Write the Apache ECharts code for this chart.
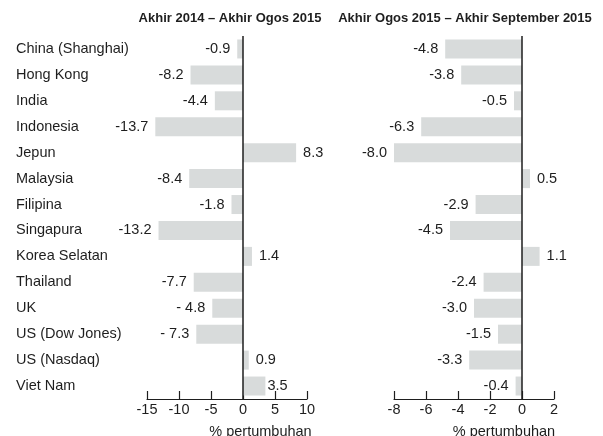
<!DOCTYPE html>
<html>
<head>
<meta charset="utf-8">
<script src="https://cdn.jsdelivr.net/npm/echarts@6/dist/echarts.min.js"></script>
<style>
  html, body { margin: 0; padding: 0; background: #ffffff; }
  #chart { width: 603px; height: 436px; }
</style>
</head>
<body>
<div id="chart"></div>
<script>
// Stock market indices, percentage change over two periods
const markets = [
  'China (Shanghai)', 'Hong Kong', 'India', 'Indonesia', 'Jepun', 'Malaysia',
  'Filipina', 'Singapura', 'Korea Selatan', 'Thailand', 'UK', 'US (Dow Jones)',
  'US (Nasdaq)', 'Viet Nam'
];
const changeToAug2015 = [-0.9, -8.2, -4.4, -13.7, 8.3, -8.4, -1.8, -13.2, 1.4, -7.7, -4.8, -7.3, 0.9, 3.5];
const changeToSep2015 = [-4.8, -3.8, -0.5, -6.3, -8.0, 0.5, -2.9, -4.5, 1.1, -2.4, -3.0, -1.5, -3.3, -0.4];

const leftTicks = { min: -15, max: 10, interval: 5 };
const rightTicks = { min: -8, max: 2, interval: 2 };

const panelTitles = ['Akhir 2014 \u2013 Akhir Ogos 2015', 'Akhir Ogos 2015 \u2013 Akhir September 2015'];
const axisTitle = '% pertumbuhan';
// these two labels are printed with a space after the minus sign
const spacedMinus = ['UK', 'US (Dow Jones)'];

const FONT = '"Liberation Sans", Arial, Helvetica, sans-serif';
const INK = '#1e1e1e';
const BAR = '#d8dbdb';

function fmt(v, name) {
  const s = v.toFixed(1);
  return (v < 0 && spacedMinus.includes(name)) ? '- ' + s.slice(1) : s;
}

function barData(values, spaced, tightLast) {
  return values.map((v, i) => ({
    value: v,
    label: {
      show: true,
      position: v < 0 ? 'left' : 'right',
      distance: (tightLast && i === values.length - 1) ? 2 : 7,
      formatter: () => spaced ? fmt(v, markets[i]) : v.toFixed(1),
      color: INK,
      fontFamily: FONT,
      fontSize: 14.5
    }
  }));
}

function valueAxis(gridIndex, ticks) {
  return {
    type: 'value',
    gridIndex: gridIndex,
    min: ticks.min,
    max: ticks.max,
    interval: ticks.interval,
    splitLine: { show: false },
    axisLine: { show: true, onZero: false, lineStyle: { color: INK, width: 1.2 } },
    axisTick: { show: true, inside: true, length: 8, lineStyle: { color: INK, width: 1.2 } },
    axisLabel: { color: INK, fontFamily: FONT, fontSize: 14.5, margin: 3 }
  };
}

function zeroLine() {
  return {
    silent: true,
    symbol: 'none',
    label: { show: false },
    lineStyle: { color: INK, width: 1.5, type: 'solid' },
    data: [{ xAxis: 0 }]
  };
}

const chart = echarts.init(document.getElementById('chart'), null, { renderer: 'canvas' });

chart.setOption({
  animation: false,
  backgroundColor: '#ffffff',
  grid: [
    { left: 147, top: 36, width: 160, bottom: 37 },
    { left: 394, top: 36, width: 160, bottom: 37 }
  ],
  xAxis: [valueAxis(0, leftTicks), valueAxis(1, rightTicks)],
  yAxis: [
    {
      type: 'category',
      gridIndex: 0,
      data: markets,
      inverse: true,
      axisLine: { show: false, onZero: false },
      axisTick: { show: false },
      axisLabel: { align: 'left', margin: 131, color: INK, fontFamily: FONT, fontSize: 14.5 }
    },
    {
      type: 'category',
      gridIndex: 1,
      data: markets,
      inverse: true,
      axisLine: { show: false, onZero: false },
      axisTick: { show: false },
      axisLabel: { show: false }
    }
  ],
  graphic: [
    { type: 'text', x: 230, y: 18, style: { text: panelTitles[0], fill: INK, font: 'bold 13px ' + FONT, textAlign: 'center', textVerticalAlign: 'middle' } },
    { type: 'text', x: 465, y: 18, style: { text: panelTitles[1], fill: INK, font: 'bold 13px ' + FONT, textAlign: 'center', textVerticalAlign: 'middle' } },
    { type: 'text', x: 260.5, y: 432, style: { text: axisTitle, fill: INK, font: '14.5px ' + FONT, textAlign: 'center', textVerticalAlign: 'middle' } },
    { type: 'text', x: 504, y: 432, style: { text: axisTitle, fill: INK, font: '14.5px ' + FONT, textAlign: 'center', textVerticalAlign: 'middle' } }
  ],
  series: [
    {
      type: 'bar',
      xAxisIndex: 0,
      yAxisIndex: 0,
      barWidth: 19,
      itemStyle: { color: BAR },
      data: barData(changeToAug2015, true, true),
      markLine: zeroLine(),
      z: 2
    },
    {
      type: 'bar',
      xAxisIndex: 1,
      yAxisIndex: 1,
      barWidth: 19,
      itemStyle: { color: BAR },
      data: barData(changeToSep2015, false, false),
      markLine: zeroLine(),
      z: 2
    }
  ]
});
</script>
</body>
</html>
